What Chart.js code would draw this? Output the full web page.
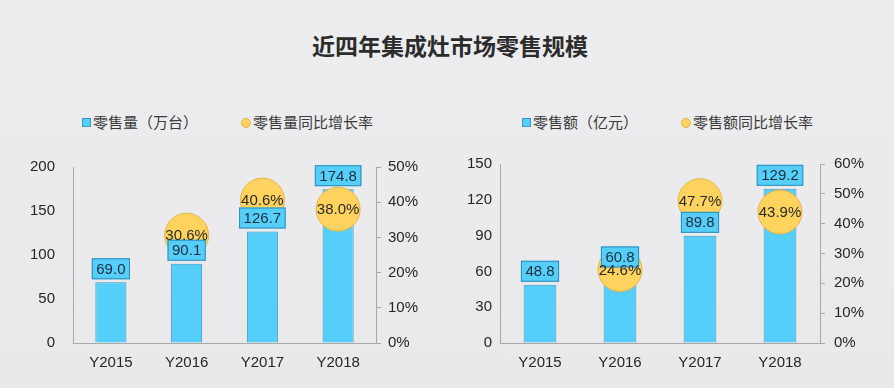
<!DOCTYPE html>
<html>
<head>
<meta charset="utf-8">
<script src="https://cdn.jsdelivr.net/npm/chart.js@4.4.0/dist/chart.umd.min.js"></script>
<style>
  html, body { margin: 0; padding: 0; }
  body {
    width: 894px; height: 388px; position: relative; overflow: hidden;
    background: linear-gradient(180deg, #ededef 0%, #e9e9ec 100%);
    font-family: "Noto Sans CJK SC", "Liberation Sans", sans-serif;
  }
  .title {
    position: absolute; left: 0; width: 900px; top: 30px; text-align: center;
    font-size: 23px; font-weight: bold; color: #2b2b2b; line-height: 30px;
  }
  .legend { position: absolute; top: 112px; font-size: 15px; color: #3a3a3a; line-height: 20px; white-space: nowrap; }
  .sq { position: absolute; top: 6px; width: 7px; height: 7px; background: #55cffa; border: 1px solid #3a96c4; }
  .dot { position: absolute; top: 6px; width: 8px; height: 8px; border-radius: 50%; background: #ffd35e; border: 1px solid #e2b448; }
  .lt { position: absolute; top: 0; }
  canvas { position: absolute; }
</style>
</head>
<body>
<div class="title">近四年集成灶市场零售规模</div>

<div class="legend" style="left:0">
  <span class="sq" style="left:82px"></span><span class="lt" style="left:93px">零售量（万台）</span>
  <span class="dot" style="left:241px"></span><span class="lt" style="left:253px">零售量同比增长率</span>
</div>
<div class="legend" style="left:0">
  <span class="sq" style="left:522px"></span><span class="lt" style="left:533px">零售额（亿元）</span>
  <span class="dot" style="left:681px"></span><span class="lt" style="left:693px">零售额同比增长率</span>
</div>

<div style="position:absolute;left:0;top:140px;width:447px;height:248px"><canvas id="c1"></canvas></div>
<div style="position:absolute;left:447px;top:140px;width:447px;height:248px"><canvas id="c2"></canvas></div>

<script>
const years = ['Y2015', 'Y2016', 'Y2017', 'Y2018'];

// 零售量（万台）与同比增长率
const salesVolume = [69.0, 90.1, 126.7, 174.8];
const volumeGrowth = [null, 30.6, 40.6, 38.0];

// 零售额（亿元）与同比增长率
const salesValue = [48.8, 60.8, 89.8, 129.2];
const valueGrowth = [null, 24.6, 47.7, 43.9];

// axis ranges / tick steps
const volumeAxis = [0, 200, 50];
const volumeRateAxis = [0, 50, 10];
const valueAxis = [0, 150, 30];
const valueRateAxis = [0, 60, 10];

const tickFont = { family: '"Liberation Sans", Arial, sans-serif', size: 15 };

const labelPlugin = {
  id: 'valueLabels',
  afterDatasetsDraw(chart) {
    const ctx = chart.ctx;
    ctx.save();
    ctx.font = '15px "Liberation Sans", Arial, sans-serif';
    ctx.textAlign = 'center';
    ctx.textBaseline = 'middle';

    // boxes above bars
    const barMeta = chart.getDatasetMeta(0);
    barMeta.data.forEach((el, i) => {
      const v = chart.data.datasets[0].data[i];
      const txt = v.toFixed(1);
      const w = ctx.measureText(txt).width + 9;
      const h = 21;
      const bx = el.x - w / 2;
      const by = el.y - 3 - h;
      ctx.fillStyle = '#55cffa';
      ctx.fillRect(bx, by, w, h);
      ctx.strokeStyle = '#2f8ab8';
      ctx.lineWidth = 1;
      ctx.strokeRect(bx + 0.5, by + 0.5, w - 1, h - 1);
      ctx.fillStyle = '#1e2d3a';
      ctx.fillText(txt, el.x, by + h / 2 + 1);
    });

    // text on the circles
    const ptMeta = chart.getDatasetMeta(1);
    ptMeta.data.forEach((el, i) => {
      const v = chart.data.datasets[1].data[i];
      if (v == null) return;
      ctx.fillStyle = '#2a2a2a';
      ctx.fillText(v.toFixed(1) + '%', el.x, el.y + 1);
    });
    ctx.restore();
  }
};

function makeChart(id, bars, rates, leftAxis, rightAxis, leftW, rightW, leftPad, rightPad) {
  const ctx = document.getElementById(id).getContext('2d');
  return new Chart(ctx, {
    type: 'bar',
    data: {
      labels: years,
      datasets: [{
        type: 'bar',
        data: bars,
        yAxisID: 'y',
        backgroundColor: '#55cffa',
        borderColor: '#3a96c4',
        borderWidth: 1,
        barPercentage: 1,
        categoryPercentage: 0.41,
        order: 2
      }, {
        type: 'line',
        data: rates,
        yAxisID: 'y1',
        showLine: false,
        pointRadius: 22,
        pointHoverRadius: 22,
        pointBackgroundColor: '#ffd35e',
        pointBorderColor: '#e2b448',
        pointBorderWidth: 1,
        order: 1
      }]
    },
    options: {
      responsive: true,
      maintainAspectRatio: false,
      animation: false,
      layout: { padding: { top: 24, left: 0, right: 0, bottom: 0 } },
      plugins: {
        legend: { display: false },
        tooltip: { enabled: false }
      },
      scales: {
        x: {
          grid: { display: false, drawTicks: false },
          border: { display: true, color: '#a8a8a8' },
          ticks: { color: '#262626', font: tickFont, padding: 11 },
          afterFit(scale) { scale.height = 45; }
        },
        y: {
          position: 'left',
          min: leftAxis[0], max: leftAxis[1],
          grid: { drawOnChartArea: false, drawTicks: false },
          border: { display: true, color: '#a8a8a8' },
          ticks: { stepSize: leftAxis[2], color: '#262626', font: tickFont, padding: leftPad },
          afterFit(scale) { scale.width = leftW; }
        },
        y1: {
          position: 'right',
          min: rightAxis[0], max: rightAxis[1],
          grid: { drawOnChartArea: false, drawTicks: true, tickLength: 5, color: '#a8a8a8' },
          border: { display: true, color: '#a8a8a8' },
          ticks: { stepSize: rightAxis[2], color: '#262626', font: tickFont, padding: rightPad,
                   callback: v => v + '%' },
          afterFit(scale) { scale.width = rightW; }
        }
      }
    },
    plugins: [labelPlugin]
  });
}

makeChart('c1', salesVolume, volumeGrowth, volumeAxis, volumeRateAxis, 73, 71, 18, 7);
makeChart('c2', salesValue, valueGrowth, valueAxis, valueRateAxis, 53, 74, 8, 9);
</script>
</body>
</html>
